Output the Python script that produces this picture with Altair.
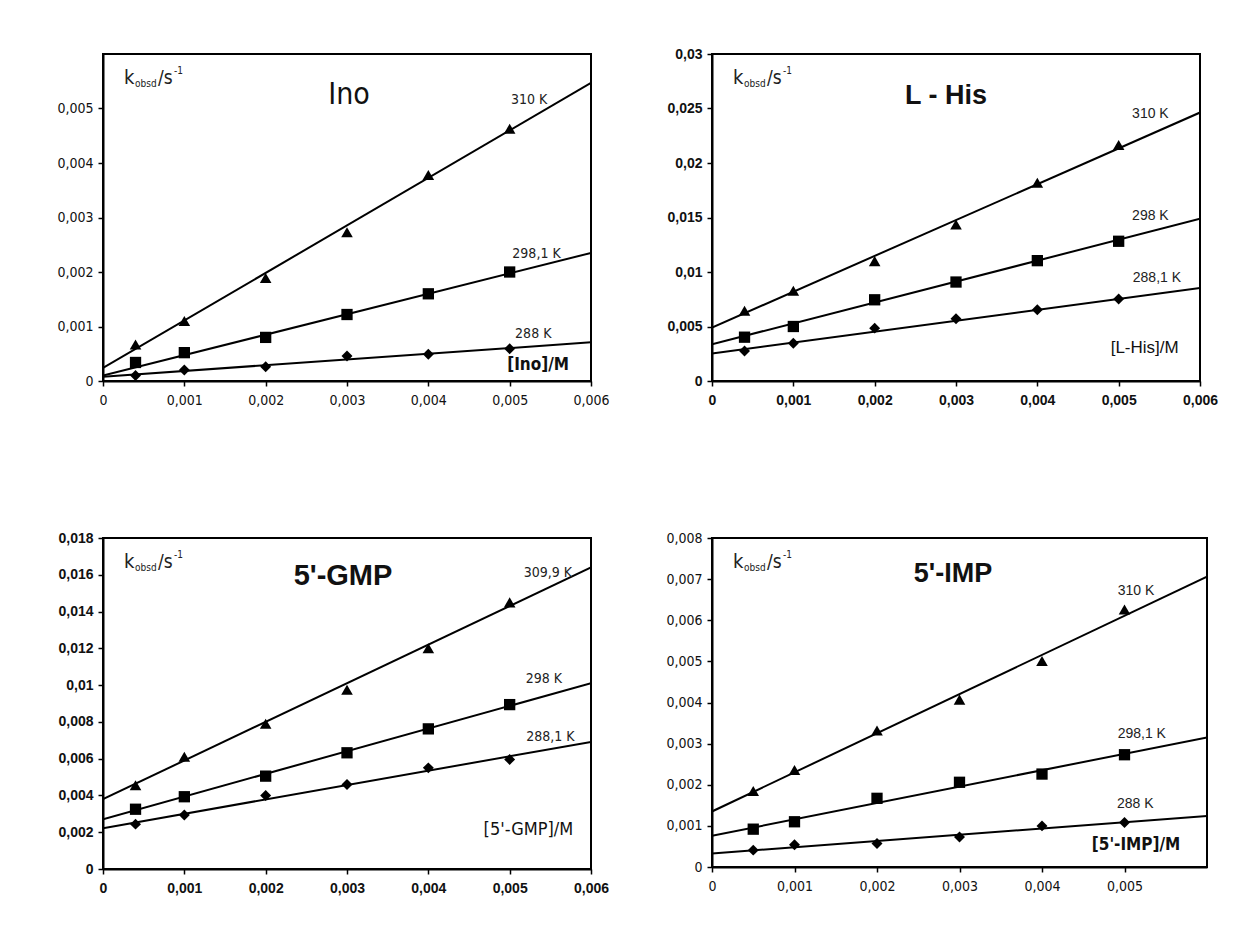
import altair as alt
import pandas as pd

# ---------------- data ----------------
X_STD = [0.0004, 0.001, 0.002, 0.003, 0.004, 0.005]
X_IMP = [0.0005, 0.001, 0.002, 0.003, 0.004, 0.005]

# Ino
INO_T = ["310 K", "298,1 K", "288 K"]
INO_310 = [0.00067, 0.0011, 0.00189, 0.00273, 0.00378, 0.00463]
INO_298 = [0.00034, 0.00052, 0.0008, 0.00122, 0.0016, 0.002]
INO_288 = [0.0001, 0.0002, 0.00026, 0.00046, 0.00049, 0.00059]
INO_FIT_0 = [0.00024, 0.0001, 0.00008]      # fitted line value at x = 0
INO_FIT_END = [0.00547, 0.00235, 0.00071]   # fitted line value at x = 0.006

# L-His
HIS_T = ["310 K", "298 K", "288,1 K"]
HIS_310 = [0.00644, 0.00828, 0.011, 0.01436, 0.01819, 0.02166]
HIS_298 = [0.00402, 0.005, 0.00745, 0.00908, 0.01104, 0.01282]
HIS_288 = [0.00276, 0.00347, 0.00485, 0.00571, 0.00653, 0.00752]
HIS_FIT_0 = [0.0049, 0.00337, 0.00252]
HIS_FIT_END = [0.02463, 0.01488, 0.00853]

# 5'-GMP
GMP_T = ["309,9 K", "298 K", "288,1 K"]
GMP_310 = [0.00455, 0.0061, 0.0079, 0.00975, 0.012, 0.0145]
GMP_298 = [0.00325, 0.00393, 0.00505, 0.00632, 0.00762, 0.00894]
GMP_288 = [0.00244, 0.00294, 0.004, 0.0046, 0.0055, 0.00596]
GMP_FIT_0 = [0.0038, 0.00271, 0.00222]
GMP_FIT_END = [0.0164, 0.0101, 0.00691]

# 5'-IMP
IMP_T = ["310 K", "298,1 K", "288 K"]
IMP_310 = [0.00185, 0.00236, 0.00332, 0.00407, 0.00501, 0.00626]
IMP_298 = [0.00092, 0.0011, 0.00167, 0.00206, 0.00226, 0.00273]
IMP_288 = [0.00041, 0.00054, 0.00057, 0.00073, 0.001, 0.00108]
IMP_FIT_0 = [0.00135, 0.00076, 0.00033]
IMP_FIT_END = [0.00706, 0.00315, 0.00124]

X_TICKS = [0, 0.001, 0.002, 0.003, 0.004, 0.005, 0.006]
X_TICKS_IMP = [0, 0.001, 0.002, 0.003, 0.004, 0.005]
Y_TICKS_INO = [0, 0.001, 0.002, 0.003, 0.004, 0.005]
Y_TICKS_HIS = [0, 0.005, 0.01, 0.015, 0.02, 0.025, 0.03]
Y_TICKS_GMP = [0, 0.002, 0.004, 0.006, 0.008, 0.01, 0.012, 0.014, 0.016, 0.018]
Y_TICKS_IMP = [0, 0.001, 0.002, 0.003, 0.004, 0.005, 0.006, 0.007, 0.008]

# annotation anchor points (data units) for the temperature labels
INO_LBL_X = [0.00524, 0.00533, 0.00529]
INO_LBL_Y = [0.00503, 0.0022, 0.00073]
HIS_LBL_X = [0.00539, 0.00539, 0.00547]
HIS_LBL_Y = [0.02383, 0.01448, 0.00883]
GMP_LBL_X = [0.00547, 0.00542, 0.0055]
GMP_LBL_Y = [0.01572, 0.00994, 0.00678]
IMP_LBL_X = [0.00514, 0.00521, 0.00513]
IMP_LBL_Y = [0.00654, 0.00307, 0.00137]

NARROW = "DejaVu Sans Condensed, Liberation Sans Narrow, Arial Narrow, sans-serif"
SANS = "Liberation Sans, Arial, Helvetica, sans-serif"

W, H = 488, 327
X_MAX = 0.006
LABEL_EXPR = "replace(format(datum.value, '~g'), '.', ',')"
SHAPES = ["triangle-up", "square", "diamond"]
SIZES = [135, 120, 95]


def panel(xs, series, temps, fit0, fitend, y_max, y_ticks, x_ticks,
          title, title_font, title_size, title_weight, title_x, title_y,
          xlabel, xlabel_x, xlabel_y, xlabel_font, xlabel_size, xlabel_weight,
          lbl_x, lbl_y, lbl_font, lbl_size,
          tick_font, tick_size, tick_weight, width=W, height=H):
    pts = pd.DataFrame([
        {"x": x, "y": y, "T": t}
        for t, ys in zip(temps, series) for x, y in zip(xs, ys)
    ])
    lines = pd.DataFrame(
        [{"x": 0.0, "y": s, "T": t} for t, s in zip(temps, fit0)]
        + [{"x": X_MAX, "y": e, "T": t} for t, e in zip(temps, fitend)]
    )
    lbls = pd.DataFrame({"x": lbl_x, "y": lbl_y, "T": temps})
    xl = pd.DataFrame({"x": [xlabel_x], "y": [xlabel_y], "T": [xlabel]})

    xenc = alt.X("x:Q", scale=alt.Scale(domain=[0, X_MAX], nice=False, zero=False),
                 axis=alt.Axis(values=x_ticks, labelExpr=LABEL_EXPR, title=None,
                               grid=False, tickSize=5, tickColor="black", tickWidth=1.5,
                               domainColor="black", domainWidth=2,
                               labelFont=tick_font, labelFontSize=tick_size,
                               labelFontWeight=tick_weight, labelColor="#111",
                               labelFlush=False, labelOverlap=False, labelPadding=7))
    yenc = alt.Y("y:Q", scale=alt.Scale(domain=[0, y_max], nice=False, zero=False),
                 axis=alt.Axis(values=y_ticks, labelExpr=LABEL_EXPR, title=None,
                               grid=False, tickSize=5, tickColor="black", tickWidth=1.5,
                               domainColor="black", domainWidth=2,
                               labelFont=tick_font, labelFontSize=tick_size,
                               labelFontWeight=tick_weight, labelColor="#111",
                               labelFlush=False, labelOverlap=False, labelPadding=5))

    line_layer = alt.Chart(lines).mark_line(color="black", strokeWidth=2, clip=True).encode(
        x=xenc, y=yenc, detail="T:N")
    pt_layer = alt.Chart(pts).mark_point(filled=True, color="black", opacity=1).encode(
        x=xenc, y=yenc,
        shape=alt.Shape("T:N", scale=alt.Scale(domain=temps, range=SHAPES), legend=None),
        size=alt.Size("T:N", scale=alt.Scale(domain=temps, range=SIZES), legend=None),
    )
    lbl_layer = alt.Chart(lbls).mark_text(
        font=lbl_font, fontSize=lbl_size, color="#222", align="center", baseline="bottom"
    ).encode(x=xenc, y=yenc, text="T:N")
    xl_layer = alt.Chart(xl).mark_text(
        font=xlabel_font, fontSize=xlabel_size, fontWeight=xlabel_weight,
        color="#111", align="center", baseline="bottom"
    ).encode(x=xenc, y=yenc, text="T:N")
    title_layer = alt.Chart(pd.DataFrame({"t": [title]})).mark_text(
        font=title_font, fontSize=title_size, fontWeight=title_weight,
        color="#111", align="center", baseline="alphabetic"
    ).encode(x=alt.value(title_x), y=alt.value(title_y), text="t:N")

    kfont = NARROW
    k_parts = [
        ("k", 21, 30, 20),
        ("obsd", 32, 33, 10),
        ("/s", 55, 30, 19),
        ("-1", 71, 20, 10),
    ]
    k_layers = [
        alt.Chart(pd.DataFrame({"t": [txt]})).mark_text(
            font=kfont, fontSize=fs, color="#222", align="left", baseline="alphabetic"
        ).encode(x=alt.value(px), y=alt.value(py), text="t:N")
        for txt, px, py, fs in k_parts
    ]

    return alt.layer(line_layer, pt_layer, lbl_layer, xl_layer, title_layer, *k_layers).properties(
        width=width, height=height)


p1 = panel(X_STD, [INO_310, INO_298, INO_288], INO_T, INO_FIT_0, INO_FIT_END,
           0.006, Y_TICKS_INO, X_TICKS,
           "Ino", NARROW, 30, "normal", 246, 50,
           "[Ino]/M", 0.00535, 0.00013, NARROW, 17, "bold",
           INO_LBL_X, INO_LBL_Y, NARROW, 14,
           NARROW, 14, "normal")
p2 = panel(X_STD, [HIS_310, HIS_298, HIS_288], HIS_T, HIS_FIT_0, HIS_FIT_END,
           0.03, Y_TICKS_HIS, X_TICKS,
           "L - His", SANS, 27, "bold", 234, 50,
           "[L-His]/M", 0.00532, 0.0022, SANS, 17, "normal",
           HIS_LBL_X, HIS_LBL_Y, SANS, 14,
           SANS, 14, "bold")
p3 = panel(X_STD, [GMP_310, GMP_298, GMP_288], GMP_T, GMP_FIT_0, GMP_FIT_END,
           0.018, Y_TICKS_GMP, X_TICKS,
           "5'-GMP", SANS, 29, "bold", 240, 47,
           "[5'-GMP]/M", 0.00523, 0.00163, NARROW, 18, "normal",
           GMP_LBL_X, GMP_LBL_Y, NARROW, 14,
           SANS, 14, "bold", height=331)
p4 = panel(X_IMP, [IMP_310, IMP_298, IMP_288], IMP_T, IMP_FIT_0, IMP_FIT_END,
           0.008, Y_TICKS_IMP, X_TICKS_IMP,
           "5'-IMP", SANS, 27, "bold", 241, 44,
           "[5'-IMP]/M", 0.00514, 0.00032, NARROW, 17, "bold",
           IMP_LBL_X, IMP_LBL_Y, SANS, 14,
           NARROW, 14, "normal", width=495, height=329)

chart = alt.concat(p1, p2, p3, p4, columns=2,
                   spacing=alt.RowColnumber(row=122, column=53)).resolve_scale(
    x="independent", y="independent", shape="independent", size="independent"
).properties(
    padding={"left": 47, "top": 38, "right": 10, "bottom": 10},
    background="white",
).configure_view(stroke="black", strokeWidth=2)

chart.save("out.html", embed_options={"renderer": "svg", "actions": False})
